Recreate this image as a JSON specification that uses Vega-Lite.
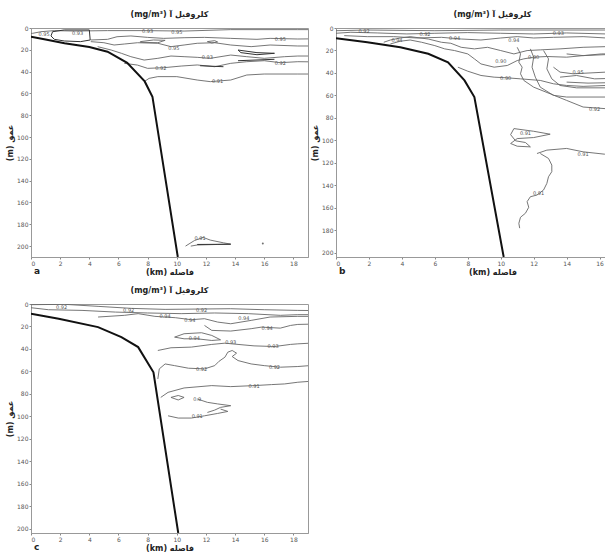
{
"$schema": "https://vega.github.io/schema/vega-lite/v6.json",
"padding": {"left": 6, "top": 10, "right": 0, "bottom": 0},
"background": "white",
"config": {
  "font": "DejaVu Sans",
  "view": {"stroke": "#999", "strokeWidth": 1},
  "axis": {"grid": false, "labelFontSize": 6, "labelColor": "#555", "tickColor": "#888", "domainColor": "#999", "tickSize": 2, "labelPadding": 1, "titleFontSize": 8, "titleFontWeight": "bold", "titleColor": "#222", "titlePadding": 2},
  "title": {"fontSize": 8, "fontWeight": "bold", "color": "#222", "offset": 6}
},
"datasets": {
"a_lines": [
{"id":"L1","o":0,"km":0,"depth":5},{"id":"L1","o":1,"km":0.11,"depth":4.9},{"id":"L1","o":2,"km":0.68,"depth":3.4},{"id":"L1","o":3,"km":1.6,"depth":2.4},{"id":"L1","o":4,"km":2.97,"depth":2.8},{"id":"L1","o":5,"km":5.25,"depth":2.4},{"id":"L1","o":6,"km":7.76,"depth":2.4},{"id":"L1","o":7,"km":10.5,"depth":2.8},{"id":"L1","o":8,"km":13.7,"depth":1.5},{"id":"L1","o":9,"km":18.3,"depth":1.5},{"id":"L1","o":10,"km":19,"depth":1.5},
{"id":"L2","o":0,"km":4.1,"depth":11},{"id":"L2","o":1,"km":5.25,"depth":10.4},{"id":"L2","o":2,"km":5.9,"depth":8},{"id":"L2","o":3,"km":6.85,"depth":7.3},{"id":"L2","o":4,"km":8.0,"depth":8.6},{"id":"L2","o":5,"km":9.1,"depth":9.5},{"id":"L2","o":6,"km":10.5,"depth":8.9},{"id":"L2","o":7,"km":11.9,"depth":8.6},{"id":"L2","o":8,"km":13.7,"depth":9.5},{"id":"L2","o":9,"km":15.5,"depth":10.4},{"id":"L2","o":10,"km":16.4,"depth":9.5},{"id":"L2","o":11,"km":18.3,"depth":10.1},{"id":"L2","o":12,"km":19,"depth":10},
{"id":"L3","o":0,"km":4.1,"depth":12.5},{"id":"L3","o":1,"km":5.0,"depth":13.5},{"id":"L3","o":2,"km":5.7,"depth":15.6},{"id":"L3","o":3,"km":6.4,"depth":14.7},{"id":"L3","o":4,"km":7.3,"depth":13.5},{"id":"L3","o":5,"km":8.7,"depth":14},{"id":"L3","o":6,"km":9.6,"depth":17.1},{"id":"L3","o":7,"km":10.5,"depth":15.6},{"id":"L3","o":8,"km":11.4,"depth":14},{"id":"L3","o":9,"km":12.6,"depth":13.5},{"id":"L3","o":10,"km":13.7,"depth":15.6},{"id":"L3","o":11,"km":15.1,"depth":17.1},{"id":"L3","o":12,"km":16.4,"depth":15.6},{"id":"L3","o":13,"km":18.3,"depth":16.5},{"id":"L3","o":14,"km":19,"depth":16.5},
{"id":"P1","o":0,"km":7.5,"depth":12.5},{"id":"P1","o":1,"km":8.4,"depth":11},{"id":"P1","o":2,"km":9.2,"depth":11.3},{"id":"P1","o":3,"km":8.7,"depth":13.5},{"id":"P1","o":4,"km":7.5,"depth":13.1},{"id":"P1","o":5,"km":7.5,"depth":12.5},
{"id":"P2","o":0,"km":12.1,"depth":12.5},{"id":"P2","o":1,"km":12.6,"depth":11.6},{"id":"P2","o":2,"km":12.8,"depth":12.8},{"id":"P2","o":3,"km":12.4,"depth":13.8},{"id":"P2","o":4,"km":12.1,"depth":12.5},
{"id":"L4","o":0,"km":4.57,"depth":17.1},{"id":"L4","o":1,"km":5.5,"depth":20.2},{"id":"L4","o":2,"km":6.2,"depth":23.2},{"id":"L4","o":3,"km":6.85,"depth":26.3},{"id":"L4","o":4,"km":7.76,"depth":29.4},{"id":"L4","o":5,"km":8.7,"depth":27.8},{"id":"L4","o":6,"km":9.6,"depth":25.7},{"id":"L4","o":7,"km":10.5,"depth":26.3},{"id":"L4","o":8,"km":11.4,"depth":26.9},{"id":"L4","o":9,"km":12.3,"depth":27.8},{"id":"L4","o":10,"km":13.7,"depth":24.8},{"id":"L4","o":11,"km":14.8,"depth":26.3},{"id":"L4","o":12,"km":16.0,"depth":27.8},{"id":"L4","o":13,"km":17.4,"depth":26.3},{"id":"L4","o":14,"km":18.3,"depth":25.7},{"id":"L4","o":15,"km":19,"depth":25.7},
{"id":"L5","o":0,"km":6.4,"depth":32.4},{"id":"L5","o":1,"km":7.3,"depth":34},{"id":"L5","o":2,"km":8.0,"depth":37},{"id":"L5","o":3,"km":9.1,"depth":36.4},{"id":"L5","o":4,"km":10.3,"depth":34.9},{"id":"L5","o":5,"km":11.4,"depth":33.9},{"id":"L5","o":6,"km":12.6,"depth":35.5},{"id":"L5","o":7,"km":13.7,"depth":32.4},{"id":"L5","o":8,"km":14.8,"depth":30.9},{"id":"L5","o":9,"km":16.0,"depth":30},{"id":"L5","o":10,"km":17.1,"depth":31.8},{"id":"L5","o":11,"km":18.3,"depth":30.9},{"id":"L5","o":12,"km":19,"depth":31},
{"id":"L6","o":0,"km":7.76,"depth":49.2},{"id":"L6","o":1,"km":8.1,"depth":46.2},{"id":"L6","o":2,"km":8.7,"depth":44.6},{"id":"L6","o":3,"km":10.0,"depth":44.6},{"id":"L6","o":4,"km":11.4,"depth":47.7},{"id":"L6","o":5,"km":12.3,"depth":49.2},{"id":"L6","o":6,"km":13.7,"depth":47.7},{"id":"L6","o":7,"km":14.8,"depth":43.1},{"id":"L6","o":8,"km":16.0,"depth":42.2},{"id":"L6","o":9,"km":18.3,"depth":42.2},{"id":"L6","o":10,"km":19,"depth":42.2},
{"id":"BL","o":0,"km":10.6,"depth":200},{"id":"BL","o":1,"km":11.2,"depth":195},{"id":"BL","o":2,"km":11.8,"depth":192},{"id":"BL","o":3,"km":12.3,"depth":194.5},{"id":"BL","o":4,"km":13.2,"depth":197},{"id":"BL","o":5,"km":13.7,"depth":198.2},{"id":"BL","o":6,"km":12.8,"depth":198.5},{"id":"BL","o":7,"km":11.4,"depth":199},{"id":"BL","o":8,"km":10.96,"depth":200}
],
"a_dark": [
{"id":"X1","o":0,"km":1.48,"depth":3.4},{"id":"X1","o":1,"km":2.28,"depth":1.8},{"id":"X1","o":2,"km":4.0,"depth":1.8},{"id":"X1","o":3,"km":4.06,"depth":11},{"id":"X1","o":4,"km":3.4,"depth":12.5},{"id":"X1","o":5,"km":2.28,"depth":11.9},{"id":"X1","o":6,"km":1.6,"depth":10.4},{"id":"X1","o":7,"km":1.37,"depth":7.3},{"id":"X1","o":8,"km":1.48,"depth":3.4},
{"id":"X2","o":0,"km":14.2,"depth":20.2},{"id":"X2","o":1,"km":15.5,"depth":22.6},{"id":"X2","o":2,"km":16.7,"depth":23.2},{"id":"X2","o":3,"km":15.5,"depth":24.5},{"id":"X2","o":4,"km":14.4,"depth":22.6},{"id":"X2","o":5,"km":14.2,"depth":20.2},
{"id":"X3","o":0,"km":14.2,"depth":30},{"id":"X3","o":1,"km":16.7,"depth":28.7},
{"id":"X4","o":0,"km":11.6,"depth":34.6},{"id":"X4","o":1,"km":13.2,"depth":35.5},
{"id":"X5","o":0,"km":11.4,"depth":198.5},{"id":"X5","o":1,"km":13.7,"depth":198.3}
],
"a_labels": [
{"km":0.9,"depth":5.8,"t":"0.95"},{"km":3.2,"depth":4.9,"t":"0.93"},{"km":8.0,"depth":3,"t":"0.93"},{"km":10,"depth":4,"t":"0.95"},{"km":17.1,"depth":10.1,"t":"0.95"},{"km":9.8,"depth":18,"t":"0.95"},{"km":12.1,"depth":26.3,"t":"0.93"},{"km":8.9,"depth":36.4,"t":"0.92"},{"km":17.1,"depth":32.4,"t":"0.92"},{"km":12.8,"depth":48.6,"t":"0.91"},{"km":11.6,"depth":193,"t":"0.91"}
],
"a_dots": [{"km":15.9,"depth":197.6}],
"a_bathy": [
{"o":0,"km":0,"depth":8},{"o":1,"km":1,"depth":10.5},{"o":2,"km":2.3,"depth":14},{"o":3,"km":4,"depth":17.5},{"o":4,"km":5.25,"depth":21.7},{"o":5,"km":6.6,"depth":32},{"o":6,"km":7.8,"depth":49},{"o":7,"km":8.33,"depth":63},{"o":8,"km":10.07,"depth":210}
],
"b_lines": [
{"id":"B1","o":0,"km":0,"depth":2.4},{"id":"B1","o":1,"km":1.9,"depth":1.8},{"id":"B1","o":2,"km":6,"depth":2.4},{"id":"B1","o":3,"km":10,"depth":1.8},{"id":"B1","o":4,"km":16.4,"depth":1.8},{"id":"B1","o":5,"km":19,"depth":1.8},
{"id":"B2","o":0,"km":0,"depth":4.7},{"id":"B2","o":1,"km":0.9,"depth":3.8},{"id":"B2","o":2,"km":2.5,"depth":4.4},{"id":"B2","o":3,"km":4.3,"depth":5.3},{"id":"B2","o":4,"km":6,"depth":4.7},{"id":"B2","o":5,"km":8,"depth":4.1},{"id":"B2","o":6,"km":10,"depth":4.7},{"id":"B2","o":7,"km":12,"depth":5.3},{"id":"B2","o":8,"km":14,"depth":4.4},{"id":"B2","o":9,"km":16.4,"depth":5.3},{"id":"B2","o":10,"km":19,"depth":5},
{"id":"B3","o":0,"km":0.5,"depth":6.8},{"id":"B3","o":1,"km":1.9,"depth":7.7},{"id":"B3","o":2,"km":3.5,"depth":7.7},{"id":"B3","o":3,"km":4.9,"depth":8.9},{"id":"B3","o":4,"km":6.4,"depth":8.3},{"id":"B3","o":5,"km":7.6,"depth":9.8},{"id":"B3","o":6,"km":8.8,"depth":10.7},{"id":"B3","o":7,"km":10,"depth":8.9},{"id":"B3","o":8,"km":11,"depth":7.7},{"id":"B3","o":9,"km":12,"depth":8.9},{"id":"B3","o":10,"km":13.2,"depth":8.3},{"id":"B3","o":11,"km":15,"depth":7.7},{"id":"B3","o":12,"km":16.4,"depth":8.9},{"id":"B3","o":13,"km":19,"depth":9},
{"id":"B4","o":0,"km":2.9,"depth":12.7},{"id":"B4","o":1,"km":3.3,"depth":10.7},{"id":"B4","o":2,"km":3.9,"depth":8.9},{"id":"B4","o":3,"km":4.5,"depth":7.7},{"id":"B4","o":4,"km":5.6,"depth":9.8},{"id":"B4","o":5,"km":6.4,"depth":12.7},{"id":"B4","o":6,"km":6.97,"depth":13.6},{"id":"B4","o":7,"km":7.6,"depth":17.2},{"id":"B4","o":8,"km":8.4,"depth":18.6},{"id":"B4","o":9,"km":9.2,"depth":17.2},{"id":"B4","o":10,"km":10,"depth":20.1},{"id":"B4","o":11,"km":10.8,"depth":23.1},{"id":"B4","o":12,"km":11.6,"depth":20.1},{"id":"B4","o":13,"km":12.4,"depth":19.5},{"id":"B4","o":14,"km":13.6,"depth":18.6},{"id":"B4","o":15,"km":15,"depth":17.2},{"id":"B4","o":16,"km":16.4,"depth":16.6},{"id":"B4","o":17,"km":19,"depth":16},
{"id":"B5","o":0,"km":3.3,"depth":14.2},{"id":"B5","o":1,"km":3.9,"depth":11.8},{"id":"B5","o":2,"km":4.5,"depth":10.7},{"id":"B5","o":3,"km":5.2,"depth":12.7},{"id":"B5","o":4,"km":6,"depth":15.7},{"id":"B5","o":5,"km":6.6,"depth":18.6},{"id":"B5","o":6,"km":7.2,"depth":20.1},{"id":"B5","o":7,"km":8,"depth":23.1},{"id":"B5","o":8,"km":8.4,"depth":27.5},{"id":"B5","o":9,"km":8.8,"depth":32},{"id":"B5","o":10,"km":9.6,"depth":34.9},{"id":"B5","o":11,"km":10.4,"depth":33.4},{"id":"B5","o":12,"km":11,"depth":29},{"id":"B5","o":13,"km":11.4,"depth":27.5},{"id":"B5","o":14,"km":12,"depth":26},{"id":"B5","o":15,"km":12.8,"depth":25.4},{"id":"B5","o":16,"km":14,"depth":26},{"id":"B5","o":17,"km":15,"depth":24.6},{"id":"B5","o":18,"km":16.4,"depth":23.7},{"id":"B5","o":19,"km":19,"depth":23.5},
{"id":"B6","o":0,"km":7.4,"depth":34.9},{"id":"B6","o":1,"km":8,"depth":38.5},{"id":"B6","o":2,"km":8.8,"depth":42.3},{"id":"B6","o":3,"km":9.6,"depth":43.8},{"id":"B6","o":4,"km":10.4,"depth":44.4},{"id":"B6","o":5,"km":11.2,"depth":45.3},{"id":"B6","o":6,"km":12.4,"depth":46.7},{"id":"B6","o":7,"km":13.2,"depth":49.7},{"id":"B6","o":8,"km":14,"depth":51.2},{"id":"B6","o":9,"km":15,"depth":52},{"id":"B6","o":10,"km":16.4,"depth":51.2},{"id":"B6","o":11,"km":19,"depth":51},
{"id":"C1","o":0,"km":11,"depth":17.2},{"id":"C1","o":1,"km":11.2,"depth":23.1},{"id":"C1","o":2,"km":11.1,"depth":30.5},{"id":"C1","o":3,"km":11.3,"depth":34.9},{"id":"C1","o":4,"km":11.2,"depth":40.8},{"id":"C1","o":5,"km":11.4,"depth":46.7},{"id":"C1","o":6,"km":12,"depth":52.7},{"id":"C1","o":7,"km":13,"depth":58.6},{"id":"C1","o":8,"km":14,"depth":64.5},{"id":"C1","o":9,"km":15,"depth":70.4},{"id":"C1","o":10,"km":16.4,"depth":71.9},{"id":"C1","o":11,"km":19,"depth":72},
{"id":"C2","o":0,"km":11.8,"depth":18.6},{"id":"C2","o":1,"km":12,"depth":26},{"id":"C2","o":2,"km":11.9,"depth":34.9},{"id":"C2","o":3,"km":12.1,"depth":43.8},{"id":"C2","o":4,"km":12.4,"depth":52.7},{"id":"C2","o":5,"km":13.2,"depth":60},{"id":"C2","o":6,"km":14,"depth":61.5},{"id":"C2","o":7,"km":16.4,"depth":61.5},{"id":"C2","o":8,"km":19,"depth":61.5},
{"id":"C3","o":0,"km":12.6,"depth":20.1},{"id":"C3","o":1,"km":12.9,"depth":27.5},{"id":"C3","o":2,"km":12.8,"depth":36.4},{"id":"C3","o":3,"km":13.1,"depth":45.3},{"id":"C3","o":4,"km":13.6,"depth":51.2},{"id":"C3","o":5,"km":14.6,"depth":53.3},{"id":"C3","o":6,"km":16.4,"depth":53.3},{"id":"C3","o":7,"km":19,"depth":53},
{"id":"C4","o":0,"km":13.2,"depth":34.9},{"id":"C4","o":1,"km":13.6,"depth":39.3},{"id":"C4","o":2,"km":14.4,"depth":40.8},{"id":"C4","o":3,"km":16.4,"depth":39.3},{"id":"C4","o":4,"km":19,"depth":39},
{"id":"C5","o":0,"km":14,"depth":23.1},{"id":"C5","o":1,"km":15,"depth":24.6},{"id":"C5","o":2,"km":16.1,"depth":23.1},{"id":"C5","o":3,"km":19,"depth":22.5},
{"id":"C6","o":0,"km":13.6,"depth":43.8},{"id":"C6","o":1,"km":14.6,"depth":42.3},{"id":"C6","o":2,"km":15.7,"depth":45.3},{"id":"C6","o":3,"km":19,"depth":44},
{"id":"C7","o":0,"km":14,"depth":48.2},{"id":"C7","o":1,"km":15.3,"depth":49.1},{"id":"C7","o":2,"km":19,"depth":48},
{"id":"D1","o":0,"km":10.8,"depth":89.6},{"id":"D1","o":1,"km":12,"depth":92},{"id":"D1","o":2,"km":13,"depth":94.6},{"id":"D1","o":3,"km":12,"depth":97.6},{"id":"D1","o":4,"km":11,"depth":98.5},{"id":"D1","o":5,"km":10.6,"depth":102.9},{"id":"D1","o":6,"km":11,"depth":105.3},{"id":"D1","o":7,"km":11.8,"depth":105.9},{"id":"D1","o":8,"km":11.5,"depth":102},{"id":"D1","o":9,"km":10.9,"depth":100.5},{"id":"D1","o":10,"km":10.6,"depth":95},{"id":"D1","o":11,"km":10.8,"depth":89.6},
{"id":"D2","o":0,"km":12.2,"depth":111.8},{"id":"D2","o":1,"km":12.8,"depth":108.8},{"id":"D2","o":2,"km":14,"depth":107.3},{"id":"D2","o":3,"km":15,"depth":110.3},{"id":"D2","o":4,"km":16.3,"depth":112.4},{"id":"D2","o":5,"km":19,"depth":113},
{"id":"D3","o":0,"km":12.4,"depth":111.8},{"id":"D3","o":1,"km":12.9,"depth":116.2},{"id":"D3","o":2,"km":13.1,"depth":122.1},{"id":"D3","o":3,"km":13.1,"depth":128},{"id":"D3","o":4,"km":12.9,"depth":132.5},{"id":"D3","o":5,"km":12.8,"depth":138.4},{"id":"D3","o":6,"km":12.6,"depth":144.3},{"id":"D3","o":7,"km":12.2,"depth":148.8},{"id":"D3","o":8,"km":11.8,"depth":150.3},{"id":"D3","o":9,"km":11.6,"depth":154.7},{"id":"D3","o":10,"km":11.7,"depth":159.7},{"id":"D3","o":11,"km":11.5,"depth":165},{"id":"D3","o":12,"km":11.2,"depth":168.6},{"id":"D3","o":13,"km":11.1,"depth":174},{"id":"D3","o":14,"km":11.15,"depth":178.3}
],
"b_labels": [
{"km":1.7,"depth":3,"t":"0.92"},{"km":5.4,"depth":5.3,"t":"0.92"},{"km":3.7,"depth":10.4,"t":"0.94"},{"km":13.5,"depth":4.4,"t":"0.93"},{"km":7.2,"depth":9.2,"t":"0.94"},{"km":10.8,"depth":10.7,"t":"0.94"},{"km":10,"depth":29,"t":"0.90"},{"km":12,"depth":26,"t":"0.90"},{"km":10.3,"depth":44.4,"t":"0.90"},{"km":14.7,"depth":39.3,"t":"0.95"},{"km":15.7,"depth":72.5,"t":"0.92"},{"km":11.5,"depth":93.4,"t":"0.91"},{"km":15,"depth":111.8,"t":"0.91"},{"km":12.3,"depth":147.3,"t":"0.91"}
],
"b_bathy": [
{"o":0,"km":0,"depth":9.2},{"o":1,"km":1.9,"depth":12.7},{"o":2,"km":3.9,"depth":17.2},{"o":3,"km":5.6,"depth":23},{"o":4,"km":6.8,"depth":30.5},{"o":5,"km":7.8,"depth":46.7},{"o":6,"km":8.4,"depth":61.5},{"o":7,"km":10.18,"depth":204}
],
"c_lines": [
{"id":"T1","o":0,"km":0,"depth":0.6},{"id":"T1","o":1,"km":2.3,"depth":0.3},{"id":"T1","o":2,"km":4.6,"depth":2.1},{"id":"T1","o":3,"km":6.9,"depth":3.9},{"id":"T1","o":4,"km":9.2,"depth":4.8},{"id":"T1","o":5,"km":11.4,"depth":4.5},{"id":"T1","o":6,"km":13.7,"depth":4.2},{"id":"T1","o":7,"km":16,"depth":5.1},{"id":"T1","o":8,"km":18.3,"depth":5.7},{"id":"T1","o":9,"km":19,"depth":5.8},
{"id":"T2","o":0,"km":0,"depth":3.3},{"id":"T2","o":1,"km":1.2,"depth":5.1},{"id":"T2","o":2,"km":3.5,"depth":5.7},{"id":"T2","o":3,"km":5.8,"depth":7.2},{"id":"T2","o":4,"km":8,"depth":8},{"id":"T2","o":5,"km":10.3,"depth":8.6},{"id":"T2","o":6,"km":12.6,"depth":8},{"id":"T2","o":7,"km":14.9,"depth":8.6},{"id":"T2","o":8,"km":17.1,"depth":10.1},{"id":"T2","o":9,"km":18.3,"depth":9.5},{"id":"T2","o":10,"km":19,"depth":9.5},
{"id":"T3","o":0,"km":4.6,"depth":11.6},{"id":"T3","o":1,"km":6.4,"depth":10.1},{"id":"T3","o":2,"km":7.35,"depth":8.6},{"id":"T3","o":3,"km":8.5,"depth":11},{"id":"T3","o":4,"km":9.9,"depth":12.2},{"id":"T3","o":5,"km":11,"depth":14},{"id":"T3","o":6,"km":11.9,"depth":13.1},{"id":"T3","o":7,"km":12.8,"depth":16.1},{"id":"T3","o":8,"km":13.7,"depth":17.6},{"id":"T3","o":9,"km":15.1,"depth":14.6},{"id":"T3","o":10,"km":16.4,"depth":11.6},{"id":"T3","o":11,"km":18.3,"depth":11},{"id":"T3","o":12,"km":19,"depth":11},
{"id":"T4","o":0,"km":11.9,"depth":19.1},{"id":"T4","o":1,"km":12.4,"depth":23.5},{"id":"T4","o":2,"km":13.7,"depth":24.1},{"id":"T4","o":3,"km":15.1,"depth":22},{"id":"T4","o":4,"km":15.8,"depth":20.6},{"id":"T4","o":5,"km":17.1,"depth":21.5},{"id":"T4","o":6,"km":17.8,"depth":19.1},{"id":"T4","o":7,"km":18.3,"depth":18.2},{"id":"T4","o":8,"km":19,"depth":18},
{"id":"T5","o":0,"km":9.85,"depth":29.5},{"id":"T5","o":1,"km":10.5,"depth":26.5},{"id":"T5","o":2,"km":11.7,"depth":25.6},{"id":"T5","o":3,"km":12.4,"depth":28},{"id":"T5","o":4,"km":13.0,"depth":31.9},{"id":"T5","o":5,"km":12.4,"depth":32.5},{"id":"T5","o":6,"km":11.4,"depth":31},{"id":"T5","o":7,"km":10.5,"depth":31},{"id":"T5","o":8,"km":9.85,"depth":29.5},
{"id":"T6","o":0,"km":8.7,"depth":41.4},{"id":"T6","o":1,"km":9.6,"depth":39},{"id":"T6","o":2,"km":11,"depth":38.4},{"id":"T6","o":3,"km":12.4,"depth":36},{"id":"T6","o":4,"km":13.3,"depth":34.9},{"id":"T6","o":5,"km":14.2,"depth":36},{"id":"T6","o":6,"km":15.3,"depth":37.3},{"id":"T6","o":7,"km":16.7,"depth":37.9},{"id":"T6","o":8,"km":17.8,"depth":36},{"id":"T6","o":9,"km":18.3,"depth":35.5},{"id":"T6","o":10,"km":19,"depth":35},
{"id":"T7","o":0,"km":8.7,"depth":66.8},{"id":"T7","o":1,"km":8.8,"depth":57.8},{"id":"T7","o":2,"km":9.2,"depth":53.4},{"id":"T7","o":3,"km":9.85,"depth":54.9},{"id":"T7","o":4,"km":10.8,"depth":57.2},{"id":"T7","o":5,"km":11.9,"depth":57.8},{"id":"T7","o":6,"km":12.6,"depth":54.9},{"id":"T7","o":7,"km":12.9,"depth":51},{"id":"T7","o":8,"km":13.3,"depth":47.4},{"id":"T7","o":9,"km":13.5,"depth":42.9},{"id":"T7","o":10,"km":13.8,"depth":41.4},{"id":"T7","o":11,"km":14.1,"depth":43.8},{"id":"T7","o":12,"km":13.8,"depth":46.8},{"id":"T7","o":13,"km":14.2,"depth":50.4},{"id":"T7","o":14,"km":15.1,"depth":53.4},{"id":"T7","o":15,"km":16,"depth":54.9},{"id":"T7","o":16,"km":17.1,"depth":56.3},{"id":"T7","o":17,"km":18.3,"depth":55.7},{"id":"T7","o":18,"km":19,"depth":55},
{"id":"T8","o":0,"km":8.9,"depth":83.2},{"id":"T8","o":1,"km":9.4,"depth":78.7},{"id":"T8","o":2,"km":10.5,"depth":74.8},{"id":"T8","o":3,"km":12.4,"depth":72.7},{"id":"T8","o":4,"km":13.7,"depth":73.6},{"id":"T8","o":5,"km":15.3,"depth":72.7},{"id":"T8","o":6,"km":16.5,"depth":71.8},{"id":"T8","o":7,"km":17.4,"depth":71.2},{"id":"T8","o":8,"km":18.3,"depth":69.7},{"id":"T8","o":9,"km":19,"depth":69},
{"id":"T9","o":0,"km":11.4,"depth":84.6},{"id":"T9","o":1,"km":12.1,"depth":87.6},{"id":"T9","o":2,"km":12.8,"depth":89},{"id":"T9","o":3,"km":13.7,"depth":90.6},{"id":"T9","o":4,"km":13.0,"depth":92.1},{"id":"T9","o":5,"km":12.6,"depth":94.5},{"id":"T9","o":6,"km":12.1,"depth":96.6},
{"id":"U1","o":0,"km":9.6,"depth":83.2},{"id":"U1","o":1,"km":10.1,"depth":85.5},{"id":"U1","o":2,"km":10.5,"depth":83.2},{"id":"U1","o":3,"km":10.1,"depth":81.5},{"id":"U1","o":4,"km":9.6,"depth":83.2},
{"id":"U2","o":0,"km":9.4,"depth":99.6},{"id":"U2","o":1,"km":10.1,"depth":101.6},{"id":"U2","o":2,"km":11,"depth":101.6},{"id":"U2","o":3,"km":11.9,"depth":99.6},{"id":"U2","o":4,"km":12.8,"depth":97.5},{"id":"U2","o":5,"km":13.5,"depth":95.7},{"id":"U2","o":6,"km":13.0,"depth":93.6}
],
"c_labels": [
{"km":2.1,"depth":2.7,"t":"0.92"},{"km":6.7,"depth":5,"t":"0.92"},{"km":11.7,"depth":5,"t":"0.92"},{"km":9.2,"depth":10.7,"t":"0.94"},{"km":14.6,"depth":12.2,"t":"0.94"},{"km":10.9,"depth":14.6,"t":"0.94"},{"km":16.2,"depth":21.5,"t":"0.94"},{"km":11.2,"depth":30.1,"t":"0.94"},{"km":13.7,"depth":34,"t":"0.93"},{"km":16.6,"depth":37.6,"t":"0.93"},{"km":11.7,"depth":57.8,"t":"0.92"},{"km":16.7,"depth":55.7,"t":"0.92"},{"km":15.3,"depth":72.7,"t":"0.91"},{"km":11.4,"depth":84.6,"t":"0.9"},{"km":11.4,"depth":99.6,"t":"0.91"}
],
"c_bathy": [
{"o":0,"km":0,"depth":8.6},{"o":1,"km":1.9,"depth":13.1},{"o":2,"km":4.6,"depth":20.6},{"o":3,"km":6.2,"depth":29.5},{"o":4,"km":7.35,"depth":38.4},{"o":5,"km":8.4,"depth":60.8},{"o":6,"km":10.1,"depth":204}
],
"letter_a": [{"p": "a"}],
"letter_b": [{"p": "b"}],
"letter_c": [{"p": "c"}]
},
"spacing": 9,
"vconcat": [
{"spacing": 2, "hconcat": [
 {"width": 277, "height": 229,
  "title": {"text": "(mg/m³) کلروفیل آ"},
  "layer": [
    {"data": {"name": "a_lines"}, "mark": {"type": "line", "color": "#666", "strokeWidth": 0.9, "clip": true}, "encoding": {
      "x": {"field": "km", "type": "quantitative", "scale": {"domain": [0, 19], "nice": false}, "axis": {"values": [0,2,4,6,8,10,12,14,16,18], "labelOverlap": false, "title": "(km) فاصله"}},
      "y": {"field": "depth", "type": "quantitative", "scale": {"domain": [0, 210], "nice": false, "reverse": true}, "axis": {"values": [0,20,40,60,80,100,120,140,160,180,200], "labelOverlap": false, "title": "(m) عمق"}},
      "detail": {"field": "id"}, "order": {"field": "o"}}},
    {"data": {"name": "a_dark"}, "mark": {"type": "line", "color": "#333", "strokeWidth": 1, "clip": true}, "encoding": {
      "x": {"field": "km", "type": "quantitative", "axis": {"values": [0,2,4,6,8,10,12,14,16,18], "labelOverlap": false, "title": "(km) فاصله"}},
      "y": {"field": "depth", "type": "quantitative", "axis": {"values": [0,20,40,60,80,100,120,140,160,180,200], "labelOverlap": false, "title": "(m) عمق"}},
      "detail": {"field": "id"}, "order": {"field": "o"}}},
    {"data": {"name": "a_labels"}, "mark": {"type": "text", "fontSize": 5, "fill": "#555"}, "encoding": {
      "x": {"field": "km", "type": "quantitative", "axis": {"values": [0,2,4,6,8,10,12,14,16,18], "labelOverlap": false, "title": "(km) فاصله"}},
      "y": {"field": "depth", "type": "quantitative", "axis": {"values": [0,20,40,60,80,100,120,140,160,180,200], "labelOverlap": false, "title": "(m) عمق"}},
      "text": {"field": "t", "type": "nominal"}}},
    {"data": {"name": "a_dots"}, "mark": {"type": "point", "filled": true, "size": 4, "color": "#333"}, "encoding": {
      "x": {"field": "km", "type": "quantitative", "axis": {"values": [0,2,4,6,8,10,12,14,16,18], "labelOverlap": false, "title": "(km) فاصله"}},
      "y": {"field": "depth", "type": "quantitative", "axis": {"values": [0,20,40,60,80,100,120,140,160,180,200], "labelOverlap": false, "title": "(m) عمق"}}}},
    {"data": {"name": "a_bathy"}, "mark": {"type": "line", "color": "#111", "strokeWidth": 2, "clip": true}, "encoding": {
      "x": {"field": "km", "type": "quantitative", "axis": {"values": [0,2,4,6,8,10,12,14,16,18], "labelOverlap": false, "title": "(km) فاصله"}},
      "y": {"field": "depth", "type": "quantitative", "axis": {"values": [0,20,40,60,80,100,120,140,160,180,200], "labelOverlap": false, "title": "(m) عمق"}},
      "order": {"field": "o"}}},
    {"data": {"name": "letter_a"}, "mark": {"type": "text", "fontSize": 9, "fontWeight": "bold", "fill": "#222", "align": "left", "baseline": "top", "dx": 3, "dy": 10}, "encoding": {
      "x": {"datum": 0, "type": "quantitative", "axis": {"values": [0,2,4,6,8,10,12,14,16,18], "labelOverlap": false, "title": "(km) فاصله"}},
      "y": {"datum": 210, "type": "quantitative", "axis": {"values": [0,20,40,60,80,100,120,140,160,180,200], "labelOverlap": false, "title": "(m) عمق"}},
      "text": {"field": "p", "type": "nominal"}}}
  ]
 },
 {"width": 313, "height": 229,
  "title": {"text": "(mg/m³) کلروفیل آ"},
  "layer": [
    {"data": {"name": "b_lines"}, "mark": {"type": "line", "color": "#666", "strokeWidth": 0.9, "clip": true}, "encoding": {
      "x": {"field": "km", "type": "quantitative", "scale": {"domain": [0, 19], "nice": false}, "axis": {"values": [0,2,4,6,8,10,12,14,16,18], "labelOverlap": false, "title": "(km) فاصله"}},
      "y": {"field": "depth", "type": "quantitative", "scale": {"domain": [0, 204], "nice": false, "reverse": true}, "axis": {"values": [0,20,40,60,80,100,120,140,160,180,200], "labelOverlap": false, "title": "(m) عمق"}},
      "detail": {"field": "id"}, "order": {"field": "o"}}},
    {"data": {"name": "b_labels"}, "mark": {"type": "text", "fontSize": 5, "fill": "#555"}, "encoding": {
      "x": {"field": "km", "type": "quantitative", "axis": {"values": [0,2,4,6,8,10,12,14,16,18], "labelOverlap": false, "title": "(km) فاصله"}},
      "y": {"field": "depth", "type": "quantitative", "axis": {"values": [0,20,40,60,80,100,120,140,160,180,200], "labelOverlap": false, "title": "(m) عمق"}},
      "text": {"field": "t", "type": "nominal"}}},
    {"data": {"name": "b_bathy"}, "mark": {"type": "line", "color": "#111", "strokeWidth": 2, "clip": true}, "encoding": {
      "x": {"field": "km", "type": "quantitative", "axis": {"values": [0,2,4,6,8,10,12,14,16,18], "labelOverlap": false, "title": "(km) فاصله"}},
      "y": {"field": "depth", "type": "quantitative", "axis": {"values": [0,20,40,60,80,100,120,140,160,180,200], "labelOverlap": false, "title": "(m) عمق"}},
      "order": {"field": "o"}}},
    {"data": {"name": "letter_b"}, "mark": {"type": "text", "fontSize": 9, "fontWeight": "bold", "fill": "#222", "align": "left", "baseline": "top", "dx": 3, "dy": 10}, "encoding": {
      "x": {"datum": 0, "type": "quantitative", "axis": {"values": [0,2,4,6,8,10,12,14,16,18], "labelOverlap": false, "title": "(km) فاصله"}},
      "y": {"datum": 204, "type": "quantitative", "axis": {"values": [0,20,40,60,80,100,120,140,160,180,200], "labelOverlap": false, "title": "(m) عمق"}},
      "text": {"field": "p", "type": "nominal"}}}
  ]
 }
]},
{"width": 277, "height": 229,
  "title": {"text": "(mg/m³) کلروفیل آ"},
  "layer": [
    {"data": {"name": "c_lines"}, "mark": {"type": "line", "color": "#666", "strokeWidth": 0.9, "clip": true}, "encoding": {
      "x": {"field": "km", "type": "quantitative", "scale": {"domain": [0, 19], "nice": false}, "axis": {"values": [0,2,4,6,8,10,12,14,16,18], "labelOverlap": false, "title": "(km) فاصله"}},
      "y": {"field": "depth", "type": "quantitative", "scale": {"domain": [0, 204], "nice": false, "reverse": true}, "axis": {"values": [0,20,40,60,80,100,120,140,160,180,200], "labelOverlap": false, "title": "(m) عمق"}},
      "detail": {"field": "id"}, "order": {"field": "o"}}},
    {"data": {"name": "c_labels"}, "mark": {"type": "text", "fontSize": 5, "fill": "#555"}, "encoding": {
      "x": {"field": "km", "type": "quantitative", "axis": {"values": [0,2,4,6,8,10,12,14,16,18], "labelOverlap": false, "title": "(km) فاصله"}},
      "y": {"field": "depth", "type": "quantitative", "axis": {"values": [0,20,40,60,80,100,120,140,160,180,200], "labelOverlap": false, "title": "(m) عمق"}},
      "text": {"field": "t", "type": "nominal"}}},
    {"data": {"name": "c_bathy"}, "mark": {"type": "line", "color": "#111", "strokeWidth": 2, "clip": true}, "encoding": {
      "x": {"field": "km", "type": "quantitative", "axis": {"values": [0,2,4,6,8,10,12,14,16,18], "labelOverlap": false, "title": "(km) فاصله"}},
      "y": {"field": "depth", "type": "quantitative", "axis": {"values": [0,20,40,60,80,100,120,140,160,180,200], "labelOverlap": false, "title": "(m) عمق"}},
      "order": {"field": "o"}}},
    {"data": {"name": "letter_c"}, "mark": {"type": "text", "fontSize": 9, "fontWeight": "bold", "fill": "#222", "align": "left", "baseline": "top", "dx": 3, "dy": 10}, "encoding": {
      "x": {"datum": 0, "type": "quantitative", "axis": {"values": [0,2,4,6,8,10,12,14,16,18], "labelOverlap": false, "title": "(km) فاصله"}},
      "y": {"datum": 204, "type": "quantitative", "axis": {"values": [0,20,40,60,80,100,120,140,160,180,200], "labelOverlap": false, "title": "(m) عمق"}},
      "text": {"field": "p", "type": "nominal"}}}
  ]
}
]
}
